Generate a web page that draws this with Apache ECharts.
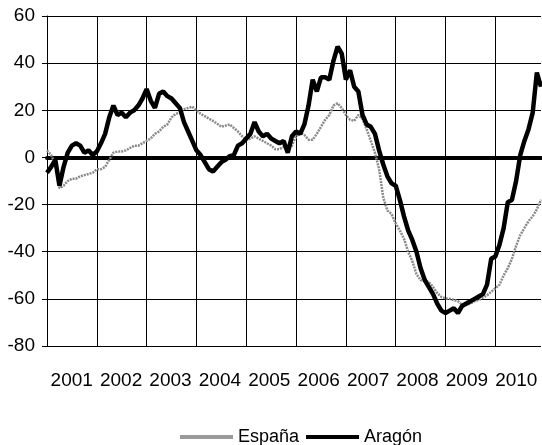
<!DOCTYPE html>
<html>
<head>
<meta charset="utf-8">
<script src="https://cdn.jsdelivr.net/npm/echarts@6/dist/echarts.min.js"></script>
<style>
html,body{margin:0;padding:0;background:#fff;}
#c{width:542px;height:445px;}
</style>
</head>
<body>
<div id="c"></div>
<script>
// Monthly data, Jan 2001 .. Dec 2010
var years = ['2001','2002','2003','2004','2005','2006','2007','2008','2009','2010'];
var months = [];
for (var y = 2001; y <= 2010; y++) { for (var m = 1; m <= 12; m++) { months.push(y + '-' + (m < 10 ? '0' + m : m)); } }

var espana = [
  3, 1, -3, -13, -12, -10, -9, -9, -8, -7.5, -7, -6.5,
  -5, -5, -4, -1, 2, 2.5, 2.5, 3, 4, 5, 5, 6,
  7, 8, 10, 11, 13, 14, 17, 18.5, 19, 20.5, 21, 21.5,
  20, 18.5, 17.5, 16.5, 15.5, 14.3, 13, 13.5, 14, 12.5, 11, 9,
  7.5, 8, 9, 8, 7, 6, 5, 3.5, 3.5, 4.5, 3, 5,
  9, 10.5, 9.5, 7.5, 7.5, 10, 13, 16, 18, 22, 23, 21,
  18, 16, 15.5, 18, 16.5, 12, 7, 2, -5, -17, -22.5, -24,
  -28, -31, -34.5, -40, -44, -49.5, -52, -52.5, -52.8, -55, -57.5, -59.2,
  -59.8, -60, -60.5, -61, -62.5, -62.5, -62, -61, -60.5, -59.5, -58.5, -57,
  -55.5, -54, -50, -47, -43, -37.5, -33, -30, -27, -25, -22, -18
];
var aragon = [
  -6.5, -4, -1, -12, -4, 2, 5, 6, 5, 2, 3, 1,
  2.5, 6, 10, 17, 22, 18, 19, 17, 19, 20, 22, 25,
  29, 24, 21, 27, 28, 26, 25, 23, 21, 15, 11, 7,
  3, 1, -2, -5, -6, -4, -2, -1, 0.5, 1, 5, 6,
  8, 10, 15, 11, 9, 10, 8, 7, 6, 7, 2, 9,
  11, 10, 14, 22, 33, 28, 34, 34, 33, 41, 47, 44,
  33, 37, 30, 28, 18, 14, 13, 10, 3, -3, -8, -11,
  -12, -18, -25, -31, -35, -40, -47, -52, -55, -58, -62, -65,
  -66, -65, -64, -66, -63, -62, -61, -60, -59, -58, -54, -43,
  -42, -37, -30, -19, -18, -10, 1, 7, 12, 19, 36, 30
];
var yTicks = { min: -80, max: 60, step: 20 };

var FONT = 'Liberation Sans, Arial, sans-serif';
var chart = echarts.init(document.getElementById('c'), null, { renderer: 'canvas' });
chart.setOption({
  animation: false,
  backgroundColor: '#fff',
  grid: { left: 47, right: 1, top: 16, bottom: 99 },
  legend: {
    left: 180, top: 428,
    itemWidth: 53, itemHeight: 4, itemGap: 7, padding: 0,
    textStyle: { fontFamily: FONT, fontSize: 18, color: '#000' },
    data: [
      { name: 'España', icon: 'rect', itemStyle: { color: '#9a9a9a' } },
      { name: 'Aragón', icon: 'rect', itemStyle: { color: '#000' } }
    ]
  },
  xAxis: [{
    type: 'category', data: months, boundaryGap: false,
    axisLine: { onZero: true, lineStyle: { color: '#000', width: 4 } },
    axisTick: { show: false },
    axisLabel: { show: false },
    splitLine: { show: true, interval: function (i) { return i % 12 === 0; }, lineStyle: { color: '#000', width: 1 } }
  }, {
    type: 'category', data: years, boundaryGap: true, position: 'bottom',
    axisLine: { show: false, onZero: false },
    axisTick: { show: false },
    splitLine: { show: false },
    axisLabel: { fontFamily: FONT, fontSize: 19, color: '#000', margin: 25, interval: 0 }
  }],
  yAxis: {
    type: 'value', min: yTicks.min, max: yTicks.max, interval: yTicks.step,
    axisLine: { show: true, lineStyle: { color: '#000', width: 1 } },
    axisTick: { show: true, length: 5, lineStyle: { color: '#000' } },
    axisLabel: { fontFamily: FONT, fontSize: 19, color: '#000', margin: 12 },
    splitLine: { show: true, lineStyle: { color: '#000', width: 1 } }
  },
  series: [{
    name: 'España', type: 'line', data: espana, xAxisIndex: 0,
    symbol: 'none', smooth: false,
    lineStyle: { color: '#8a8a8a', width: 2.5, type: [2, 1] },
    itemStyle: { color: '#8a8a8a' }
  }, {
    name: 'Aragón', type: 'line', data: aragon, xAxisIndex: 0,
    symbol: 'none', smooth: false,
    lineStyle: { color: '#000', width: 4.5 },
    itemStyle: { color: '#000' }
  }]
});
</script>
</body>
</html>
